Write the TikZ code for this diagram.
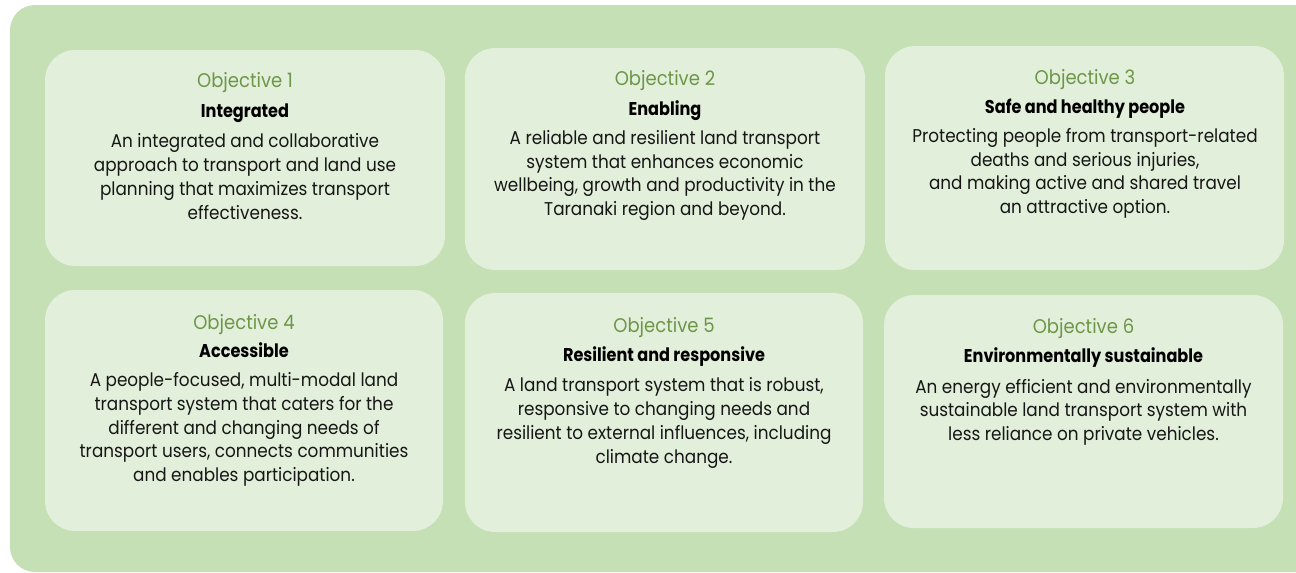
\documentclass[tikz,border=0pt]{standalone}
\usepackage{fontspec}
\setmainfont{Poppins}[FakeStretch=0.91]
\newfontfamily\titlefont{Poppins}[FakeStretch=0.87]
\definecolor{outergreen}{HTML}{C5E0B4}
\definecolor{innergreen}{HTML}{E2EFDA}
\definecolor{labelgreen}{HTML}{6E9648}
\definecolor{bodytext}{HTML}{161616}
\tikzset{
  objbox/.style={fill=innergreen, draw=none, rounded corners=30pt, inner sep=0pt},
  objlabel/.style={anchor=base, inner sep=0pt, text=labelgreen, font=\fontsize{19.8}{22}\selectfont},
  objtitle/.style={anchor=base, inner sep=0pt, text=black, font=\titlefont\bfseries\fontsize{18.5}{22}\selectfont},
  objbody/.style={anchor=base, inner sep=0pt, text=bodytext, align=center, font=\fontsize{18.5}{23.7}\selectfont},
}
\begin{document}
\begin{tikzpicture}[x=1pt,y=-1pt]
\useasboundingbox (0,0) rectangle (1296,573);
\clip (0,0) rectangle (1296,573);
\fill[outergreen, rounded corners=25pt] (10,5) rectangle (1340,572);

% boxes
\node[objbox, minimum width=400pt, minimum height=216pt] (b1) at (245,158) {};
\node[objbox, minimum width=400pt, minimum height=222pt] (b2) at (665,159) {};
\node[objbox, minimum width=399pt, minimum height=224pt] (b3) at (1084.5,158) {};
\node[objbox, minimum width=398pt, minimum height=241pt] (b4) at (244,410.5) {};
\node[objbox, minimum width=398pt, minimum height=239pt] (b5) at (664,412.5) {};
\node[objbox, minimum width=399pt, minimum height=233pt] (b6) at (1083.5,411.5) {};

% Objective 1 (body node anchored at the baseline of its last line)
\node[objlabel] (l1) at (245,87) {Objective 1};
\node[objtitle] (t1) at (245,117) {Integrated};
\node[objbody] (d1) at (245,219) {An integrated and collaborative\\approach to transport and land use\\planning that maximizes transport\\effectiveness.};

% Objective 2
\node[objlabel] (l2) at (665,85) {Objective 2};
\node[objtitle] (t2) at (665,115) {Enabling};
\node[objbody] (d2) at (665,215.5) {A reliable and resilient land transport\\system that enhances economic\\wellbeing, growth and productivity in the\\Taranaki region and beyond.};

% Objective 3
\node[objlabel] (l3) at (1085,84) {Objective 3};
\node[objtitle] (t3) at (1085,113) {Safe and healthy people};
\node[objbody] (d3) at (1085,213.5) {Protecting people from transport-related\\deaths and serious injuries,\\and making active and shared travel\\an attractive option.};

% Objective 4
\node[objlabel] (l4) at (244,329) {Objective 4};
\node[objtitle] (t4) at (244,357.7) {Accessible};
\node[objbody] (d4) at (244,481.5) {A people-focused, multi-modal land\\transport system that caters for the\\different and changing needs of\\transport users, connects communities\\and enables participation.};

% Objective 5
\node[objlabel] (l5) at (664,332.7) {Objective 5};
\node[objtitle] (t5) at (664,361.7) {Resilient and responsive};
\node[objbody] (d5) at (664,463) {A land transport system that is robust,\\responsive to changing needs and\\resilient to external influences, including\\climate change.};

% Objective 6
\node[objlabel] (l6) at (1083.5,333.3) {Objective 6};
\node[objtitle] (t6) at (1083.5,362.7) {Environmentally sustainable};
\node[objbody] (d6) at (1083.5,440.5) {An energy efficient and environmentally\\sustainable land transport system with\\less reliance on private vehicles.};
\end{tikzpicture}
\end{document}
